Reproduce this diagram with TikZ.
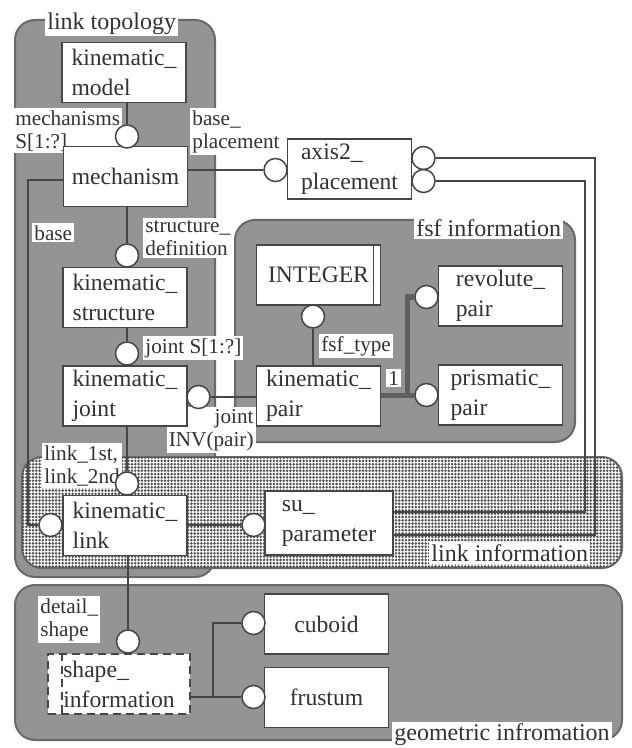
\documentclass[tikz,border=0pt]{standalone}
\usepackage{fontspec}
\setmainfont{Liberation Serif}
\usetikzlibrary{patterns.meta}
\definecolor{groupgray}{RGB}{148, 148, 148}
\definecolor{edgegray}{RGB}{105, 105, 105}
\definecolor{linegray}{RGB}{70, 70, 70}
\definecolor{inkgray}{RGB}{50, 50, 50}
\definecolor{dotgray}{RGB}{80, 80, 80}
\definecolor{subgray}{RGB}{95, 95, 95}

\tikzset{
    entity/.style={draw=linegray, fill=white, line width=0.75pt, minimum width=62pt, minimum height=30pt, align=left, inner sep=1pt},
    attrdot/.style={circle, draw=linegray, fill=white, line width=0.75pt, minimum size=11.5pt, inner sep=0pt},
    role/.style={fill=white, inner sep=1pt, align=left, font=\fontsize{10.6}{11.5}\selectfont},
    areatitle/.style={fill=white, inner sep=1pt, font=\fontsize{12}{14}\selectfont},
    conn/.style={draw=linegray, line width=0.75pt},
    subtype/.style={draw=subgray, line width=2.5pt},
    area/.style={fill=groupgray, draw=edgegray, line width=1pt, rounded corners=10pt},
    selectdash/.style={dash pattern=on 4pt off 2.5pt, line width=1pt},
}

\begin{document}
\begin{tikzpicture}[x=0.5pt, y=-0.5pt, every node/.style={text=inkgray, font=\fontsize{11.8}{15}\selectfont}]
    \useasboundingbox (0,0) rectangle (631,748);

    \draw[area] (15,20) rectangle (215,577);
    \draw[area] (235,220) rectangle (575,442);
    \draw[area, fill=white, postaction={pattern={Dots[distance=1.65pt, radius=0.7pt]}, pattern color=dotgray}] (22,457) rectangle (622,568);
    \draw[area] (15,585) rectangle (622,740);

    \node[areatitle, anchor=north west] (ltopo) at (45,10) {link topology};
    \node[areatitle, anchor=north west] (lfsf) at (414,217) {fsf information};
    \node[areatitle, anchor=north west] (llinkinfo) at (429,542) {link information};
    \node[areatitle, anchor=south west] (lgeo) at (392,748) {geometric infromation};

    \node[role, anchor=north west] (lmechs) at (13,108) {mechanisms\\S[1:?]};
    \node[role, anchor=north west] (lbasepl) at (190,108) {base\_\\placement};
    \node[role, anchor=north west] (lbase) at (32,223) {base};
    \node[role, anchor=north west] (lstructdef) at (143,218) {structure\_\\definition};
    \node[role, anchor=north west] (ljoint) at (143,336) {joint S[1:?]};
    \node[role, anchor=north east, align=right] (linv) at (256,407) {joint\\INV(pair)};
    \node[role, anchor=north west] (lfsftype) at (319,334) {fsf\_type};
    \node[role, anchor=north west] (lone) at (386,369) {1};
    \node[role, anchor=north west] (llinks) at (42,443) {link\_1st,\\link\_2nd};
    \node[role, anchor=north west] (ldetail) at (38,596) {detail\_\\shape};

    \node[entity] (model) at (124,72.5) {kinematic\_\\model};
    \node[entity] (mech) at (125.5,176.5) {mechanism};
    \node[entity] (kstruct) at (125,297.5) {kinematic\_\\structure};
    \node[entity] (kjoint) at (125,396) {kinematic\_\\joint};
    \node[entity] (klink) at (125,525.5) {kinematic\_\\link};
    \node[entity, selectdash, minimum width=71pt] (shapeinfo) at (119,684) {shape\_\\information};
    \node[entity] (axis) at (349.5,169) {axis2\_\\placement};
    \node[entity] (integer) at (318.5,275) {INTEGER};
    \node[entity] (kpair) at (318.5,396) {kinematic\_\\pair};
    \node[entity] (revolute) at (500.5,296) {revolute\_\\pair};
    \node[entity] (prismatic) at (500.5,395) {prismatic\_\\pair};
    \node[entity, minimum width=64pt, minimum height=32pt] (suparam) at (329,523) {su\_\\parameter};
    \node[entity] (cuboid) at (326.5,624) {cuboid};
    \node[entity] (frustum) at (326.5,697.5) {frustum};

    \draw[conn] ([xshift=-4pt]integer.north east) -- ([xshift=-4pt]integer.south east);
    \draw[conn, selectdash] ([xshift=7.5pt]shapeinfo.north west) -- ([xshift=7.5pt]shapeinfo.south west);

    \node[attrdot] (cmech) at (127,136.5) {};
    \node[attrdot] (caxis) at (275.5,170) {};
    \node[attrdot] (caxisa) at (423.5,158) {};
    \node[attrdot] (caxisb) at (423.5,181) {};
    \node[attrdot] (cstruct) at (127,255.5) {};
    \node[attrdot] (cjoint) at (127,353.5) {};
    \node[attrdot] (cpair) at (198.5,397) {};
    \node[attrdot] (cint) at (313,316.5) {};
    \node[attrdot] (crev) at (426.5,297) {};
    \node[attrdot] (cpri) at (426.5,395) {};
    \node[attrdot] (clink) at (127,483.5) {};
    \node[attrdot] (cbase) at (50.5,525) {};
    \node[attrdot] (csu) at (253.5,525) {};
    \node[attrdot] (cshape) at (128,641.5) {};
    \node[attrdot] (ccub) at (253.5,623) {};
    \node[attrdot] (cfru) at (253.5,697) {};

    \coordinate (basebend) at (28,180);
    \coordinate (bendb) at (585,512);
    \coordinate (benda) at (595,535);
    \coordinate (fsfbend) at (407,395);
    \coordinate (geobend) at (213,697);

    \draw[conn] (cmech.north) -- (cmech.north |- model.south);
    \draw[conn] (mech.east |- caxis) -- (caxis.west);
    \draw[conn] (mech.west |- basebend) -- (basebend) |- (cbase.west);
    \draw[conn] (mech.south -| cstruct) -- (cstruct.north);
    \draw[conn] (kstruct.south -| cjoint) -- (cjoint.north);
    \draw[conn] (kpair.west |- cpair) -- (cpair.east);
    \draw[conn] (kpair.north -| cint) -- (cint.south);
    \draw[subtype] (kpair.east |- fsfbend) -- (cpri.west);
    \draw[subtype] (fsfbend) |- (crev.west);
    \draw[conn] (kjoint.south -| clink) -- (clink.north);
    \draw[conn] (klink.east |- csu) -- (csu.west);
    \draw[conn] (suparam.east |- bendb) -- (bendb) |- (caxisb.east);
    \draw[conn] (suparam.east |- benda) -- (benda) |- (caxisa.east);
    \draw[conn] (klink.south -| cshape) -- (cshape.north);
    \draw[conn] (shapeinfo.east |- cfru) -- (cfru.west);
    \draw[conn] (geobend) |- (ccub.west);
\end{tikzpicture}
\end{document}
